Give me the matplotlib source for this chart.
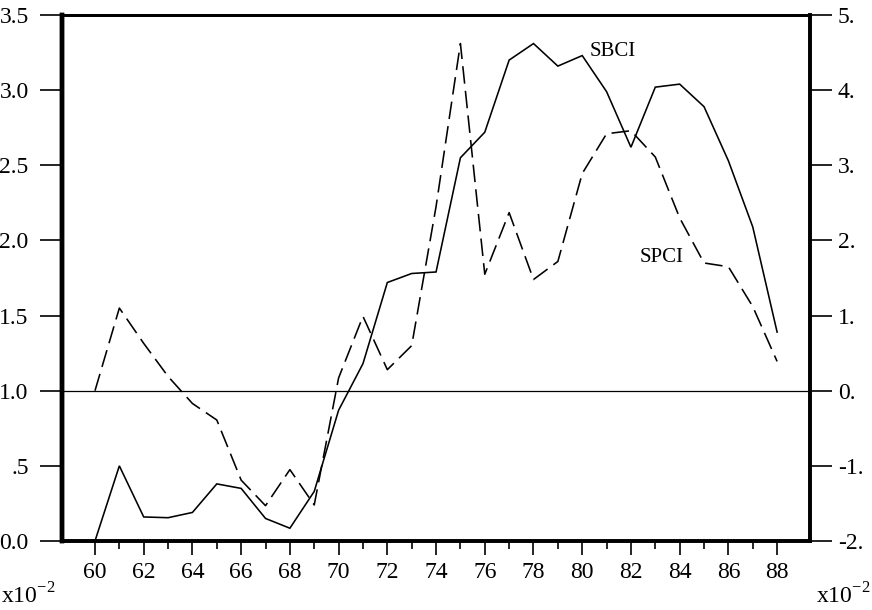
import numpy as np
import matplotlib.pyplot as plt

# annual index values, 1960-1988 (x10^-2 scale on the year axis)
years = np.arange(60, 89)

# SBCI, left scale
sbci = [0.00, 0.50, 0.16, 0.155, 0.19, 0.38, 0.35, 0.15, 0.085, 0.33,
        0.87, 1.18, 1.72, 1.78, 1.79, 2.55, 2.72, 3.20, 3.31, 3.16,
        3.23, 2.99, 2.62, 3.02, 3.04, 2.89, 2.53, 2.09, 1.39]

# SPCI, right scale
spci = [0.00, 1.10, 0.63, 0.19, -0.17, -0.39, -1.19, -1.53, -1.05, -1.52,
        0.17, 0.99, 0.28, 0.60, 2.45, 4.62, 1.55, 2.37, 1.48, 1.72,
        2.89, 3.42, 3.46, 3.11, 2.30, 1.70, 1.65, 1.12, 0.39]

left_ticks = [0.0, 0.5, 1.0, 1.5, 2.0, 2.5, 3.0, 3.5]
left_labels = ['0.0', '.5', '1.0', '1.5', '2.0', '2.5', '3.0', '3.5']
right_ticks = [-2, -1, 0, 1, 2, 3, 4, 5]
right_labels = ['-2.', '-1.', '0.', '1.', '2.', '3.', '4.', '5.']

plt.rcParams['font.family'] = ['Liberation Serif', 'DejaVu Serif']
fs = 17

W, H = 872, 610
fig = plt.figure(figsize=(W / 100, H / 100), dpi=100)
ax = fig.add_axes([62 / W, 69 / H, 748 / W, 526 / H])
ax2 = ax.twinx()

ax.plot(years, sbci, color='black', lw=1.15, solid_joinstyle='miter')
ax.axhline(1.0, color='black', lw=0.9)
ax2.plot(years, spci, color='black', lw=1.15, dashes=(11, 4.5))

ax.set_xlim(58.646, 89.35)
ax.set_ylim(0, 3.5)
ax2.set_ylim(-2, 5)

ax.set_xticks(np.arange(60, 89, 2))
ax.set_xticks(np.arange(61, 89, 2), minor=True)
ax.tick_params(axis='x', which='major', direction='out', length=10, width=1.2,
               labelsize=fs, pad=5)
ax.tick_params(axis='x', which='minor', direction='out', length=6, width=1.2)

ax.set_yticks(left_ticks)
ax.set_yticklabels(left_labels)
ax.tick_params(axis='y', direction='out', length=16, width=1.2, labelsize=fs, pad=8)
ax2.set_yticks(right_ticks)
ax2.set_yticklabels(right_labels)
ax2.tick_params(axis='y', direction='out', length=16, width=1.2, labelsize=fs, pad=4)

for a in (ax, ax2):
    a.spines['left'].set_linewidth(3.2)
    a.spines['bottom'].set_linewidth(2.6)
    a.spines['right'].set_linewidth(2.6)
    a.spines['top'].set_linewidth(2.0)

fig.text(613 / W, 1 - 52 / H, 'SBCI', fontsize=15, ha='center', va='center')
fig.text(662 / W, 1 - 257 / H, 'SPCI', fontsize=15, ha='center', va='center')

fig.text(1 / W, 1 - 596 / H, r'x10$^{\mathregular{-2}}$', fontsize=17,
         ha='left', va='center')
fig.text(816 / W, 1 - 596 / H, r'x10$^{\mathregular{-2}}$', fontsize=17,
         ha='left', va='center')

fig.savefig('out.png', dpi=100)
